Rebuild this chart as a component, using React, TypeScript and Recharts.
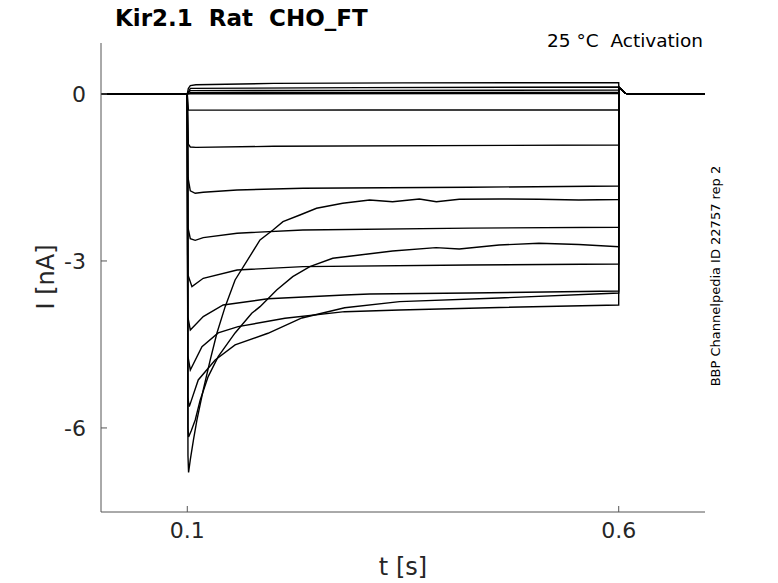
import React from 'react';
import { LineChart, Line, XAxis, YAxis } from 'recharts';

type Pt = [number, number];

// axis setup
const xTicks = [0.1, 0.6];
const yTicks = [-6, -3, 0];
const xDomain: [number, number] = [0, 0.7];
const yDomain: [number, number] = [-7.51, 0.916];

// holding current before the step and tail after it (t [s], I [nA])
const holding: Pt[] = [[0, 0], [0.1, 0]];
const tail: Pt[] = [[0.6001, 0.12], [0.608, 0.01], [0.615, 0], [0.7, 0]];

// step currents (t [s], I [nA])
const stepP1: Pt[] = [[0.1012, 0.1], [0.1035, 0.15], [0.11, 0.165], [0.2, 0.19], [0.35, 0.2], [0.6, 0.203]];
const stepP2: Pt[] = [[0.1035, 0.1], [0.3, 0.115], [0.6, 0.126]];
const stepP3: Pt[] = [[0.1035, 0.06], [0.3, 0.065], [0.6, 0.07]];
const stepP4: Pt[] = [[0.1035, 0.025], [0.3, 0.028], [0.6, 0.03]];
const stepP5: Pt[] = [[0.1035, 0.005], [0.6, 0.008]];
const stepN1: Pt[] = [[0.1012, -0.29], [0.3, -0.288], [0.6, -0.287]];
const stepN2: Pt[] = [[0.1012, -0.9], [0.1035, -0.952], [0.11, -0.96], [0.2, -0.94], [0.6, -0.916]];
const stepL1: Pt[] = [[0.1008, -1.5], [0.1035, -1.74], [0.1092, -1.784], [0.1185, -1.766], [0.1577, -1.725], [0.234, -1.694], [0.4268, -1.676], [0.6, -1.653]];
const stepL2: Pt[] = [[0.1008, -2.4], [0.1035, -2.6], [0.1092, -2.63], [0.1185, -2.58], [0.1577, -2.502], [0.234, -2.443], [0.4268, -2.41], [0.6, -2.395]];
const stepL3: Pt[] = [[0.1008, -3.25], [0.1054, -3.462], [0.1185, -3.311], [0.1577, -3.162], [0.234, -3.102], [0.4268, -3.072], [0.6, -3.054]];
const stepL4: Pt[] = [[0.1006, -4.0], [0.1035, -4.239], [0.1185, -4.0], [0.1416, -3.79], [0.1935, -3.68], [0.2824, -3.611], [0.3113, -3.593], [0.4268, -3.575], [0.6, -3.54]];
const stepL5: Pt[] = [[0.1006, -4.7], [0.1035, -4.958], [0.117, -4.539], [0.1358, -4.293], [0.1589, -4.18], [0.2132, -4.029], [0.2824, -3.911], [0.346, -3.88], [0.4614, -3.835], [0.6, -3.79]];
const stepL6: Pt[] = [[0.1006, -5.45], [0.1023, -5.617], [0.1127, -5.138], [0.1323, -4.778], [0.1554, -4.509], [0.1935, -4.299], [0.2328, -4.024], [0.2824, -3.84], [0.346, -3.73], [0.4614, -3.665], [0.6, -3.575]];
const stepC: Pt[] = [[0.1008, -6.0], [0.1015, -6.16], [0.1046, -6.05], [0.1092, -5.856], [0.115, -5.497], [0.1242, -5.078], [0.1358, -4.719], [0.1554, -4.293], [0.1747, -3.94], [0.1843, -3.821], [0.2036, -3.521], [0.2222, -3.282], [0.242, -3.102], [0.2686, -2.952], [0.2998, -2.892], [0.3379, -2.82], [0.3883, -2.761], [0.4152, -2.784], [0.4614, -2.713], [0.5076, -2.682], [0.5538, -2.704], [0.6, -2.743]];
const stepB: Pt[] = [[0.1008, -6.5], [0.1015, -6.8], [0.1035, -6.57], [0.1073, -6.2], [0.1112, -5.856], [0.1185, -5.317], [0.1266, -4.778], [0.1343, -4.299], [0.1439, -3.821], [0.1554, -3.341], [0.1843, -2.623], [0.1993, -2.443], [0.2109, -2.294], [0.2305, -2.174], [0.2498, -2.053], [0.2801, -1.963], [0.3113, -1.904], [0.3379, -1.935], [0.369, -1.886], [0.3887, -1.935], [0.4152, -1.892], [0.4614, -1.886], [0.5076, -1.892], [0.5538, -1.904], [0.6, -1.895]];

const steps: Pt[][] = [stepP1, stepP2, stepP3, stepP4, stepP5, stepN1, stepN2, stepL1, stepL2, stepL3, stepL4, stepL5, stepL6, stepC, stepB];

const toRows = (step: Pt[]) => [...holding, ...step, ...tail].map(([t, i]) => ({ t, i }));

const FONT = '"DejaVu Sans", sans-serif';
const INK = '#262626';

export default function App() {
  return (
    <div style={{ position: 'absolute', left: 0, top: 0, width: 778, height: 583, background: '#fff' }}>
      <LineChart width={778} height={583} margin={{ top: 43, right: 73, bottom: 31, left: 41 }}>
        <XAxis
          dataKey="t"
          type="number"
          domain={xDomain}
          ticks={xTicks}
          allowDataOverflow
          height={40}
          tickSize={-6}
          tickMargin={16}
          stroke="#555"
          tick={{ fill: INK, fontSize: 22, fontFamily: FONT }}
        />
        <YAxis
          type="number"
          domain={yDomain}
          ticks={yTicks}
          allowDataOverflow
          width={60}
          tickSize={-6}
          tickMargin={21}
          stroke="#555"
          tick={{ fill: INK, fontSize: 22, fontFamily: FONT }}
        />
        {steps.map((s, k) => (
          <Line
            key={k}
            data={toRows(s)}
            dataKey="i"
            type="linear"
            stroke="#000"
            strokeWidth={1.4}
            dot={false}
            activeDot={false}
            isAnimationActive={false}
          />
        ))}
      </LineChart>
      <svg width={778} height={583} style={{ position: 'absolute', left: 0, top: 0, pointerEvents: 'none' }}>
        <text x={115} y={26} fontFamily={FONT} fontSize={23} fontWeight="bold" fill="#000" style={{ whiteSpace: 'pre' }}>
          {'Kir2.1  Rat  CHO_FT'}
        </text>
        <text x={703} y={47} textAnchor="end" fontFamily={FONT} fontSize={18.5} fill="#000" style={{ whiteSpace: 'pre' }}>
          {'25 °C  Activation'}
        </text>
        <text x={54} y={277} textAnchor="middle" transform="rotate(-90 54 277)" fontFamily={FONT} fontSize={24} fill={INK}>
          I [nA]
        </text>
        <text x={403} y={575} textAnchor="middle" fontFamily={FONT} fontSize={24} fill={INK}>
          t [s]
        </text>
        <text x={720} y={276} textAnchor="middle" transform="rotate(-90 720 276)" fontFamily={FONT} fontSize={13} fill="#000">
          BBP Channelpedia ID 22757 rep 2
        </text>
      </svg>
    </div>
  );
}
